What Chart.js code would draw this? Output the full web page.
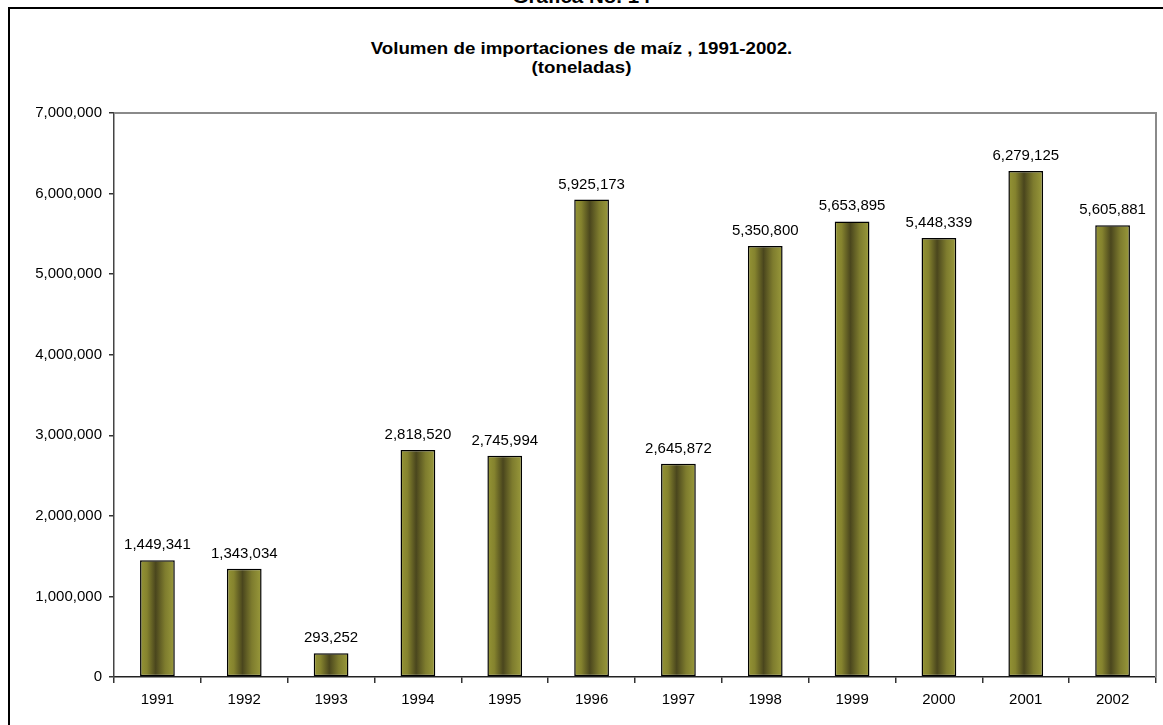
<!DOCTYPE html>
<html>
<head>
<meta charset="utf-8">
<script src="https://cdn.jsdelivr.net/npm/chart.js@4"></script>
<style>
  html, body { margin: 0; padding: 0; background: #fff; overflow: hidden; }
  body { width: 1163px; height: 725px; position: relative; font-family: "Liberation Sans", Arial, sans-serif; }
  #frame { position: absolute; left: 8px; top: 7px; width: 1200px; height: 800px;
           border-left: 2px solid #000; border-top: 2px solid #000; }
  #sheetTitle { position: absolute; left: 0; width: 1163px; top: -13px; text-align: center;
                font-weight: bold; font-size: 19px; line-height: 19px; transform: scaleX(1.08); }
  .title { position: absolute; left: 0; width: 1163px; text-align: center; font-weight: bold;
           font-size: 17px; line-height: 19px; transform: scaleX(1.1); }
  #title1 { top: 39px; }
  #title2 { top: 58px; }
  #chartWrap { position: absolute; left: 0; top: 0; width: 1163px; height: 725px; }
</style>
</head>
<body>
<div id="sheetTitle">Gráfica No. 14</div>
<div id="frame"></div>
<div class="title" id="title1">Volumen de importaciones de maíz , 1991-2002.</div>
<div class="title" id="title2">(toneladas)</div>
<div id="chartWrap"><canvas id="chart" width="1163" height="725"></canvas></div>
<script>
// Datos del gráfico
const years = ['1991', '1992', '1993', '1994', '1995', '1996', '1997', '1998', '1999', '2000', '2001', '2002'];
const importVolume = [1449341, 1343034, 293252, 2818520, 2745994, 5925173, 2645872, 5350800, 5653895, 5448339, 6279125, 5605881];
const yTicks = [0, 1000000, 2000000, 3000000, 4000000, 5000000, 6000000, 7000000];

const FONT = '"Liberation Sans", Arial, sans-serif';

function formatNum(v) {
  return v.toLocaleString('en-US');
}

// Degradado horizontal de cada barra
function barGradient(ctx) {
  const chart = ctx.chart;
  const xScale = chart.scales.x;
  if (!xScale || ctx.dataIndex === undefined) return '#7a7a2e';
  const cx = xScale.getPixelForValue(ctx.dataIndex);
  const w = (xScale.width / years.length) * 0.4;
  if (!isFinite(cx) || !isFinite(w) || w <= 0) return '#7a7a2e';
  const g = chart.ctx.createLinearGradient(cx - w / 2, 0, cx + w / 2, 0);
  g.addColorStop(0, '#959535');
  g.addColorStop(0.2, '#85832e');
  g.addColorStop(0.45, '#4a461d');
  g.addColorStop(0.72, '#7e7c2e');
  g.addColorStop(1, '#9a9a3b');
  return g;
}

// Borde gris superior y derecho del área de trazado
const plotBorder = {
  id: 'plotBorder',
  beforeDatasetsDraw(chart) {
    const { ctx, chartArea: a } = chart;
    ctx.save();
    ctx.strokeStyle = '#8a8a8a';
    ctx.lineWidth = 2;
    ctx.beginPath();
    ctx.moveTo(a.left, a.top);
    ctx.lineTo(a.right, a.top);
    ctx.lineTo(a.right, a.bottom);
    ctx.stroke();
    ctx.restore();
  },
};

// Etiquetas de valor sobre las barras
const valueLabels = {
  id: 'valueLabels',
  afterDatasetsDraw(chart) {
    const { ctx } = chart;
    const meta = chart.getDatasetMeta(0);
    ctx.save();
    ctx.font = `15px ${FONT}`;
    ctx.fillStyle = '#000';
    ctx.textAlign = 'center';
    ctx.textBaseline = 'alphabetic';
    meta.data.forEach((bar, i) => {
      ctx.fillText(formatNum(importVolume[i]), bar.x, bar.y - 11);
    });
    ctx.restore();
  },
};

new Chart(document.getElementById('chart'), {
  type: 'bar',
  data: {
    labels: years,
    datasets: [{
      data: importVolume,
      backgroundColor: barGradient,
      borderColor: '#000',
      borderWidth: 1.5,
      borderSkipped: false,
      categoryPercentage: 1,
      barPercentage: 0.4,
    }],
  },
  options: {
    responsive: false,
    animation: false,
    layout: { padding: { left: 0, top: 113, right: 7, bottom: 0 } },
    plugins: {
      legend: { display: false },
      tooltip: { enabled: false },
    },
    scales: {
      x: {
        offset: true,
        grid: { offset: true, drawOnChartArea: false, tickLength: 6, color: '#333', lineWidth: 1.5 },
        border: { color: '#222', width: 1.5 },
        ticks: { color: '#000', font: { family: FONT, size: 15 }, padding: 8, maxRotation: 0 },
        afterFit(scale) { scale.height = 48; },
      },
      y: {
        min: 0,
        max: 7000000,
        afterBuildTicks(scale) { scale.ticks = yTicks.map(v => ({ value: v })); },
        grid: { drawOnChartArea: false, tickLength: 5, color: '#333', lineWidth: 1.5 },
        border: { color: '#444', width: 1.5 },
        ticks: { color: '#000', font: { family: FONT, size: 15 }, padding: 7, callback: v => formatNum(v) },
        afterFit(scale) { scale.width = 114; },
      },
    },
  },
  plugins: [plotBorder, valueLabels],
});
</script>
</body>
</html>
